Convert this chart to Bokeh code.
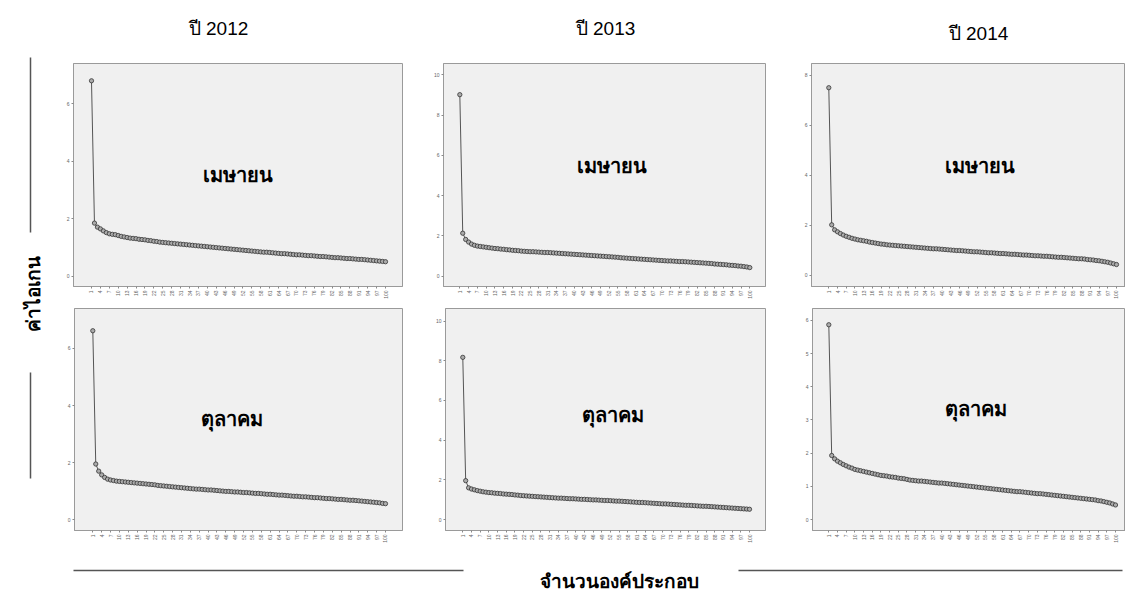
import math
from bokeh.plotting import figure
from bokeh.layouts import row, column
from bokeh.models import Range1d, FixedTicker, Label, ColumnDataSource
from bokeh.embed import file_html
from bokeh.resources import INLINE

# ---------------- data ----------------
components = list(range(1, 101))
x_tick_values = list(range(1, 101, 3))
year_titles = ["ปี 2012", "ปี 2013", "ปี 2014"]
month_labels = ["เมษายน", "ตุลาคม"]
y_axis_title = "ค่าไอเกน"
x_axis_title = "จำนวนองค์ประกอบ"

yticks_2012_apr = [0, 2, 4, 6]
yticks_2013_apr = [0, 2, 4, 6, 8, 10]
yticks_2014_apr = [0, 2, 4, 6, 8]
yticks_2012_oct = [0, 2, 4, 6]
yticks_2013_oct = [0, 2, 4, 6, 8, 10]
yticks_2014_oct = [0, 1, 2, 3, 4, 5, 6]

eig_2012_apr = [6.79, 1.85, 1.71, 1.65, 1.58, 1.52, 1.48, 1.46, 1.45, 1.42,
                1.39, 1.37, 1.35, 1.33, 1.32, 1.31, 1.29, 1.28, 1.27, 1.25,
                1.24, 1.22, 1.21, 1.19, 1.18, 1.17, 1.16, 1.15, 1.14, 1.13,
                1.12, 1.11, 1.10, 1.09, 1.08, 1.07, 1.06, 1.05, 1.04, 1.03,
                1.02, 1.01, 1.00, 0.99, 0.98, 0.97, 0.96, 0.95, 0.94, 0.93,
                0.92, 0.91, 0.90, 0.89, 0.88, 0.87, 0.86, 0.85, 0.84, 0.84,
                0.83, 0.82, 0.81, 0.80, 0.79, 0.79, 0.78, 0.77, 0.76, 0.75,
                0.75, 0.74, 0.73, 0.72, 0.72, 0.71, 0.70, 0.69, 0.69, 0.68,
                0.67, 0.66, 0.65, 0.65, 0.64, 0.63, 0.62, 0.62, 0.61, 0.60,
                0.59, 0.59, 0.58, 0.57, 0.56, 0.55, 0.54, 0.53, 0.52, 0.51]

eig_2012_oct = [6.62, 1.95, 1.70, 1.57, 1.48, 1.42, 1.39, 1.37, 1.35, 1.34,
                1.33, 1.32, 1.31, 1.30, 1.29, 1.28, 1.27, 1.26, 1.25, 1.24,
                1.23, 1.22, 1.20, 1.19, 1.18, 1.17, 1.16, 1.15, 1.14, 1.13,
                1.12, 1.11, 1.10, 1.09, 1.08, 1.07, 1.07, 1.06, 1.05, 1.04,
                1.04, 1.03, 1.02, 1.01, 1.00, 0.99, 0.99, 0.98, 0.97, 0.97,
                0.96, 0.95, 0.95, 0.94, 0.93, 0.92, 0.92, 0.91, 0.90, 0.89,
                0.89, 0.88, 0.87, 0.86, 0.86, 0.85, 0.84, 0.83, 0.82, 0.82,
                0.81, 0.80, 0.80, 0.79, 0.78, 0.77, 0.77, 0.76, 0.75, 0.74,
                0.74, 0.73, 0.72, 0.71, 0.71, 0.70, 0.69, 0.68, 0.68, 0.67,
                0.66, 0.65, 0.64, 0.63, 0.62, 0.61, 0.60, 0.59, 0.57, 0.56]

eig_2013_apr = [9.02, 2.13, 1.82, 1.69, 1.59, 1.53, 1.49, 1.47, 1.45, 1.43,
                1.41, 1.39, 1.37, 1.36, 1.34, 1.33, 1.31, 1.30, 1.28, 1.27,
                1.26, 1.24, 1.23, 1.22, 1.21, 1.21, 1.20, 1.19, 1.18, 1.17,
                1.17, 1.16, 1.15, 1.14, 1.13, 1.12, 1.11, 1.10, 1.09, 1.08,
                1.07, 1.06, 1.05, 1.04, 1.03, 1.02, 1.01, 1.00, 0.99, 0.98,
                0.97, 0.96, 0.95, 0.94, 0.93, 0.91, 0.90, 0.89, 0.88, 0.87,
                0.86, 0.85, 0.84, 0.83, 0.82, 0.81, 0.80, 0.79, 0.78, 0.77,
                0.76, 0.75, 0.75, 0.74, 0.73, 0.72, 0.72, 0.71, 0.70, 0.69,
                0.68, 0.67, 0.66, 0.65, 0.64, 0.63, 0.62, 0.60, 0.59, 0.58,
                0.57, 0.56, 0.54, 0.53, 0.52, 0.50, 0.49, 0.47, 0.45, 0.42]

eig_2013_oct = [8.17, 1.96, 1.60, 1.54, 1.50, 1.46, 1.43, 1.40, 1.38, 1.36,
                1.35, 1.33, 1.32, 1.31, 1.29, 1.28, 1.27, 1.26, 1.24, 1.23,
                1.21, 1.20, 1.19, 1.18, 1.17, 1.16, 1.15, 1.14, 1.13, 1.12,
                1.11, 1.10, 1.09, 1.08, 1.08, 1.07, 1.06, 1.05, 1.05, 1.04,
                1.03, 1.02, 1.02, 1.01, 1.00, 0.99, 0.99, 0.98, 0.97, 0.96,
                0.96, 0.95, 0.94, 0.93, 0.93, 0.92, 0.91, 0.90, 0.89, 0.88,
                0.87, 0.86, 0.86, 0.85, 0.84, 0.83, 0.82, 0.81, 0.80, 0.79,
                0.79, 0.78, 0.77, 0.76, 0.75, 0.74, 0.73, 0.72, 0.72, 0.71,
                0.70, 0.69, 0.68, 0.67, 0.67, 0.66, 0.65, 0.64, 0.63, 0.62,
                0.61, 0.60, 0.59, 0.58, 0.57, 0.56, 0.55, 0.54, 0.53, 0.52]

eig_2014_apr = [7.51, 2.02, 1.82, 1.74, 1.67, 1.61, 1.56, 1.52, 1.48, 1.45,
                1.42, 1.40, 1.38, 1.36, 1.33, 1.31, 1.29, 1.27, 1.25, 1.24,
                1.22, 1.21, 1.20, 1.19, 1.18, 1.17, 1.16, 1.15, 1.14, 1.13,
                1.12, 1.11, 1.10, 1.09, 1.08, 1.07, 1.06, 1.06, 1.05, 1.04,
                1.03, 1.02, 1.01, 1.00, 0.99, 0.99, 0.98, 0.97, 0.96, 0.95,
                0.94, 0.94, 0.93, 0.92, 0.91, 0.90, 0.90, 0.89, 0.88, 0.87,
                0.87, 0.86, 0.85, 0.84, 0.84, 0.83, 0.82, 0.81, 0.81, 0.80,
                0.79, 0.78, 0.78, 0.77, 0.76, 0.76, 0.75, 0.74, 0.73, 0.72,
                0.72, 0.71, 0.70, 0.69, 0.68, 0.67, 0.66, 0.66, 0.65, 0.63,
                0.62, 0.61, 0.59, 0.58, 0.56, 0.54, 0.52, 0.49, 0.46, 0.43]

eig_2014_oct = [5.87, 1.93, 1.83, 1.76, 1.71, 1.66, 1.62, 1.58, 1.55, 1.51,
                1.49, 1.47, 1.45, 1.43, 1.41, 1.39, 1.37, 1.35, 1.33, 1.32,
                1.31, 1.29, 1.28, 1.27, 1.25, 1.24, 1.23, 1.21, 1.19, 1.18,
                1.17, 1.16, 1.16, 1.15, 1.14, 1.13, 1.12, 1.11, 1.10, 1.10,
                1.09, 1.08, 1.07, 1.06, 1.05, 1.04, 1.03, 1.02, 1.01, 1.00,
                0.99, 0.98, 0.97, 0.96, 0.95, 0.94, 0.93, 0.92, 0.91, 0.90,
                0.89, 0.88, 0.87, 0.86, 0.85, 0.84, 0.84, 0.83, 0.82, 0.81,
                0.80, 0.79, 0.78, 0.78, 0.77, 0.76, 0.75, 0.74, 0.73, 0.72,
                0.71, 0.70, 0.69, 0.68, 0.67, 0.66, 0.65, 0.64, 0.63, 0.62,
                0.61, 0.60, 0.59, 0.57, 0.56, 0.54, 0.52, 0.50, 0.47, 0.44]

# ---------------- styling ----------------
THAI_FONT = "Noto Sans, sans-serif"
TITLE_FONT = "Liberation Sans Narrow, Liberation Sans, sans-serif"
FRAME_FILL = "#f0f0f0"
FRAME_LINE = "#9a9a9a"


def panel(values, yticks, width, height, borders, xr, yr, label, label_pos):
    left, right, top, bottom = borders
    p = figure(width=width, height=height,
               x_range=Range1d(*xr), y_range=Range1d(*yr),
               output_backend="svg", toolbar_location=None,
               min_border_left=left, min_border_right=right,
               min_border_top=top, min_border_bottom=bottom)
    p.background_fill_color = FRAME_FILL
    p.border_fill_color = "white"
    p.outline_line_color = FRAME_LINE
    p.outline_line_width = 1
    p.grid.visible = False

    p.xaxis.ticker = FixedTicker(ticks=x_tick_values)
    p.yaxis.ticker = FixedTicker(ticks=yticks)
    p.xaxis.major_label_orientation = math.pi / 2
    for ax in (p.xaxis, p.yaxis):
        ax.axis_line_color = FRAME_LINE
        ax.axis_line_width = 1
        ax.major_tick_line_color = "#8a8a8a"
        ax.major_tick_out = 2
        ax.major_tick_in = 0
        ax.minor_tick_line_color = None
        ax.major_label_text_font_size = "5px"
        ax.major_label_text_color = "#666666"
        ax.major_label_standoff = 2
        ax.major_label_text_font = "Liberation Sans"

    src = ColumnDataSource(dict(x=components, y=values))
    p.line("x", "y", source=src, line_color="#555555", line_width=1)
    p.scatter("x", "y", source=src, marker="circle", size=4.3,
              fill_color="#ababab", line_color="#333333", line_width=0.8)

    p.add_layout(Label(x=label_pos[0], y=label_pos[1], text=label,
                       text_font=THAI_FONT, text_font_size="20px",
                       text_font_style="bold", text_color="black",
                       text_align="center", text_baseline="middle"))
    return p


def canvas(width, height, xr, yr):
    p = figure(width=width, height=height,
               x_range=Range1d(*xr), y_range=Range1d(*yr),
               x_axis_location=None, y_axis_location=None,
               output_backend="svg", toolbar_location=None, min_border=0)
    p.outline_line_color = None
    p.grid.visible = False
    p.background_fill_color = "white"
    p.border_fill_color = "white"
    return p


# top row of panels
p1 = panel(eig_2012_apr, yticks_2012_apr, 365, 255, (13, 23, 9, 18),
           (-5.06, 105.72), (-0.35, 7.39), month_labels[0], (50.2, 3.55))
p2 = panel(eig_2013_apr, yticks_2013_apr, 365, 255, (18, 25, 9, 19),
           (-4.57, 105.36), (-0.52, 10.57), month_labels[0], (53.1, 5.49))
p3 = panel(eig_2014_apr, yticks_2014_apr, 335, 255, (21, 0, 13, 18),
           (-4.95, 103.1), (-0.45, 8.48), month_labels[0], (53.2, 4.41))
# bottom row of panels
p4 = panel(eig_2012_oct, yticks_2012_oct, 365, 247, (14, 23, 3, 17),
           (-5.19, 105.75), (-0.38, 7.40), month_labels[1], (48.2, 3.56))
p5 = panel(eig_2013_oct, yticks_2013_oct, 365, 247, (20, 25, 3, 20),
           (-4.97, 105.52), (-0.55, 10.63), month_labels[1], (52.7, 5.29))
p6 = panel(eig_2014_oct, yticks_2014_oct, 335, 247, (22, 0, 3, 22),
           (-4.63, 103.45), (-0.33, 6.36), month_labels[1], (51.7, 3.35))

# top strip with year titles (pixel coordinates of the picture)
top = canvas(1065, 50, (60, 1125), (50, 0))
for tx, ty, t in zip([218, 605, 978], [28, 28, 33], year_titles):
    top.add_layout(Label(x=tx, y=ty, text=t, text_font=TITLE_FONT,
                         text_font_size="19px", text_color="black",
                         text_align="center", text_baseline="middle"))

# left strip with y title
left = canvas(60, 593, (0, 60), (593, 0))
left.segment(x0=[30, 30], y0=[57, 372], x1=[30, 30], y1=[232, 478],
             line_color="#555555", line_width=1.5)
left.add_layout(Label(x=32, y=293, text=y_axis_title, text_font=THAI_FONT,
                      text_font_size="19px", text_font_style="bold",
                      text_color="black", angle=math.pi / 2,
                      text_align="center", text_baseline="middle"))

# bottom strip with x title
bottom = canvas(1065, 41, (60, 1125), (593, 552))
bottom.segment(x0=[73, 738], y0=[570, 570], x1=[463, 1122], y1=[570, 570],
               line_color="#555555", line_width=1.5)
bottom.add_layout(Label(x=619, y=580, text=x_axis_title, text_font=THAI_FONT,
                        text_font_size="19px", text_font_style="bold",
                        text_color="black", text_align="center",
                        text_baseline="middle"))

layout = row(left,
             column(top, row(p1, p2, p3, spacing=0), row(p4, p5, p6, spacing=0),
                    bottom, spacing=0),
             spacing=0)

open("out.html", "w").write(file_html(layout, INLINE))
